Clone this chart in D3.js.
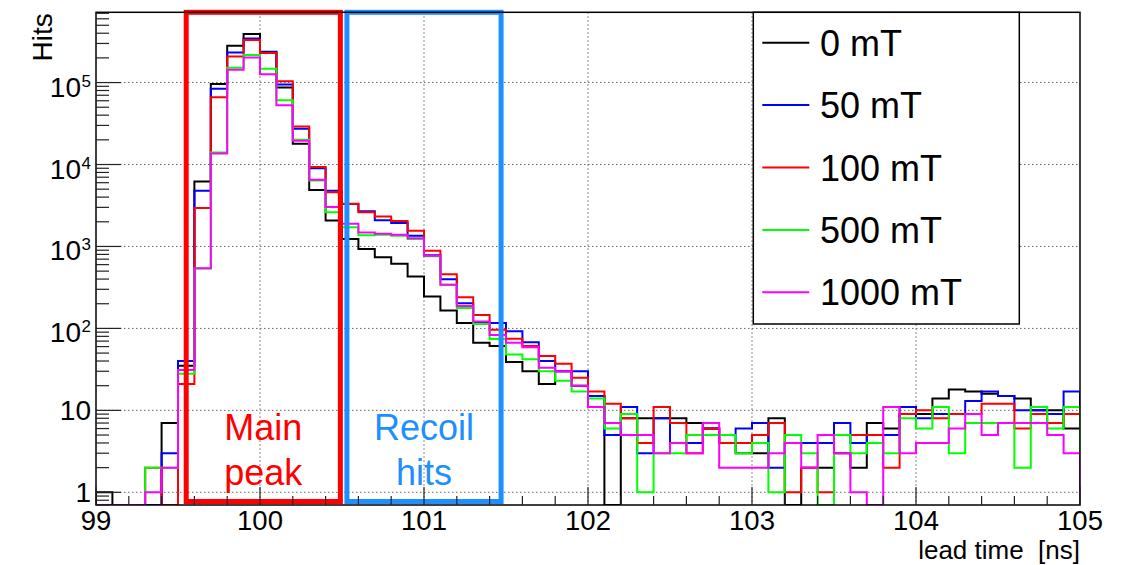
<!DOCTYPE html>
<html>
<head>
<meta charset="utf-8">
<script src="https://cdn.jsdelivr.net/npm/d3@7"></script>
<style>
  body { margin: 0; background: #fff; }
  svg { display: block; }
  text { font-family: "Liberation Sans", Arial, Helvetica, sans-serif; }
</style>
</head>
<body>
<svg id="chart" width="1127" height="565"></svg>
<script>
// Histogram binning: 60 bins of 0.1 ns from 99 ns to 105 ns
const binStart = 99;
const binWidth = 0.1;

// Hits per bin for each magnetic field setting
const hits0mT = [1, 0, 0, 0, 7, 35, 6200, 96000, 281000, 391000,
  238000, 87000, 17900, 4900, 2070, 1230, 930, 740, 615, 430,
  245, 165, 116, 67, 61, 39, 30, 21, 30, 20,
  15, 0, 8, 8, 8, 8, 7, 6, 4, 3,
  3, 8, 0, 2, 2, 3, 2, 7, 6, 9,
  9, 14, 18, 17, 16, 15, 14, 10, 10, 6];
const hits50mT = [0, 0, 0, 0, 3, 40, 4770, 84000, 233000, 346000,
  235000, 95000, 27300, 9000, 4770, 3300, 2680, 2090, 1930, 1350,
  783, 399, 203, 119, 116, 92, 68, 40, 30, 30,
  15, 5, 11, 3, 8, 4, 4, 6, 4, 6,
  7, 2, 4, 4, 4, 7, 4, 5, 5, 11,
  8, 9, 9, 13, 17, 15, 10, 10, 9, 17];
const hits100mT = [0, 0, 0, 2, 0, 21, 2940, 66000, 208000, 330000,
  229000, 104000, 29100, 9300, 4580, 3310, 2620, 2320, 2050, 1550,
  884, 459, 240, 146, 96, 75, 61, 46, 37, 25,
  17, 12, 8, 4, 11, 7, 3, 6, 4, 4,
  5, 7, 1, 2, 1, 5, 5, 5, 2, 9,
  10, 8, 9, 9, 12, 12, 6, 9, 7, 9];
const hits500mT = [0, 0, 0, 2, 2, 28, 540, 14000, 152000, 217000,
  147000, 61000, 20000, 6400, 2620, 1720, 1370, 1390, 1350, 1230,
  760, 340, 177, 113, 74, 48, 42, 30, 23, 17,
  14, 6, 9, 1, 3, 3, 5, 5, 5, 3,
  4, 1, 5, 3, 0, 5, 3, 4, 3, 8,
  6, 11, 3, 7, 7, 7, 2, 11, 6, 11];
const hits1000mT = [0, 0, 0, 1, 2, 31, 543, 13600, 143000, 202000,
  126000, 53000, 19500, 6500, 3020, 1890, 1480, 1430, 1390, 1260,
  770, 340, 188, 121, 83, 67, 59, 33, 30, 20,
  11, 7, 5, 5, 3, 4, 3, 7, 2, 2,
  2, 3, 4, 2, 5, 3, 1, 0, 11, 3,
  4, 4, 6, 9, 5, 7, 7, 7, 5, 3];

const seriesLabels = ["0 mT", "50 mT", "100 mT", "500 mT", "1000 mT"];
const seriesValues = [hits0mT, hits50mT, hits100mT, hits500mT, hits1000mT];
const seriesColors = ["#000000", "#0000ff", "#ff0000", "#00ff00", "#ff00ff"];

// Axis ticks
const xTickValues = [99, 100, 101, 102, 103, 104, 105];
const yDecades = [1, 10, 100, 1000, 10000, 100000];

// Highlighted time windows (ns)
const regionLabels = [["Main", "peak"], ["Recoil", "hits"]];
const regionRanges = [[99.55, 100.49], [100.53, 101.47]];
const regionColors = ["#ff0000", "#1e8fff"];

// ---------------------------------------------------------------
const svg = d3.select("#chart");
const frame = { left: 96, right: 1080, top: 12.3, bottom: 505 };

const x = d3.scaleLinear().domain([99, 105]).range([frame.left, frame.right]);
const y = d3.scaleLog().domain([0.7, 7.2e5]).range([frame.bottom, frame.top]);

svg.append("rect").attr("width", 1127).attr("height", 565).attr("fill", "#fff");

svg.append("defs").append("clipPath").attr("id", "plotClip")
  .append("rect")
  .attr("x", frame.left).attr("y", frame.top)
  .attr("width", frame.right - frame.left)
  .attr("height", frame.bottom - frame.top);

// Dotted grid
const grid = svg.append("g").attr("stroke", "#666").attr("stroke-width", 1)
  .attr("stroke-dasharray", "1.5,2.5");
grid.selectAll("line.gx").data(xTickValues.slice(1, -1)).join("line")
  .attr("x1", d => x(d)).attr("x2", d => x(d))
  .attr("y1", frame.top).attr("y2", frame.bottom);
grid.selectAll("line.gy").data(yDecades).join("line")
  .attr("x1", frame.left).attr("x2", frame.right)
  .attr("y1", d => y(d)).attr("y2", d => y(d));

// Step histograms
const yFloor = y.domain()[0];
function stepPoints(values) {
  const pts = [[binStart, yFloor]];
  values.forEach((v, i) => {
    const lo = binStart + i * binWidth, hi = binStart + (i + 1) * binWidth;
    const vv = Math.max(v, yFloor);
    pts.push([lo, vv], [hi, vv]);
  });
  pts.push([binStart + values.length * binWidth, yFloor]);
  return pts;
}
const line = d3.line().x(d => x(d[0])).y(d => y(d[1]));
const hists = svg.append("g").attr("clip-path", "url(#plotClip)");
seriesValues.forEach((vals, k) => {
  hists.append("path")
    .attr("d", line(stepPoints(vals)))
    .attr("fill", "none")
    .attr("stroke", seriesColors[k])
    .attr("stroke-width", 2)
    .attr("stroke-linejoin", "miter");
});

// Highlighted windows
regionRanges.forEach((r, k) => {
  svg.append("rect")
    .attr("x", x(r[0])).attr("y", frame.top)
    .attr("width", x(r[1]) - x(r[0]))
    .attr("height", 501.5 - frame.top)
    .attr("fill", "none")
    .attr("stroke", regionColors[k])
    .attr("stroke-width", 5);
  const cx = (x(r[0]) + x(r[1])) / 2;
  regionLabels[k].forEach((t, j) => {
    svg.append("text")
      .attr("x", cx).attr("y", 440 + j * 45)
      .attr("text-anchor", "middle")
      .attr("font-size", 36)
      .attr("fill", regionColors[k])
      .text(t);
  });
});

// Frame
svg.append("rect")
  .attr("x", frame.left).attr("y", frame.top)
  .attr("width", frame.right - frame.left)
  .attr("height", frame.bottom - frame.top)
  .attr("fill", "none").attr("stroke", "#000").attr("stroke-width", 1.5);

// X axis ticks and labels
const xMinor = d3.range(0, 31).map(i => 99 + i * 0.2);
const axes = svg.append("g").attr("stroke", "#222").attr("stroke-width", 1.2);
axes.selectAll("line.xt").data(xMinor).join("line")
  .attr("x1", d => x(d)).attr("x2", d => x(d))
  .attr("y1", frame.bottom)
  .attr("y2", d => frame.bottom - (Math.abs(d - Math.round(d)) < 1e-6 ? 18 : 9));

svg.append("g").selectAll("text").data(xTickValues).join("text")
  .attr("x", d => x(d)).attr("y", 530)
  .attr("text-anchor", "middle").attr("font-size", 27.5)
  .text(d => d);

// Y axis ticks and labels
const yMinor = [];
[-1, 0, 1, 2, 3, 4, 5].forEach(e => {
  for (let m = 1; m <= 9; m++) {
    const v = m * Math.pow(10, e);
    if (v > y.domain()[0] && v < y.domain()[1]) yMinor.push({ v, major: m === 1 });
  }
});
axes.selectAll("line.yt").data(yMinor).join("line")
  .attr("x1", frame.left)
  .attr("x2", d => frame.left + (d.major ? 25 : 13))
  .attr("y1", d => y(d.v)).attr("y2", d => y(d.v));

const yLab = svg.append("g");
yDecades.forEach(v => {
  const exp = Math.round(Math.log10(v));
  if (exp <= 1) {
    yLab.append("text")
      .attr("x", 91).attr("y", y(v) + 10)
      .attr("text-anchor", "end").attr("font-size", 28)
      .text(v);
  } else {
    yLab.append("text")
      .attr("x", 81).attr("y", y(v) + 14)
      .attr("text-anchor", "end").attr("font-size", 28)
      .text("10");
    yLab.append("text")
      .attr("x", 81.5).attr("y", y(v) + 4)
      .attr("font-size", 17)
      .text(exp);
  }
});

// Axis titles
svg.append("text")
  .attr("x", frame.right).attr("y", 558.5)
  .attr("text-anchor", "end").attr("font-size", 26)
  .attr("xml:space", "preserve")
  .text("lead time  [ns]");
svg.append("text")
  .attr("transform", `translate(52,${frame.top + 1}) rotate(-90)`)
  .attr("text-anchor", "end").attr("font-size", 28)
  .text("Hits");

// Legend
const legend = svg.append("g");
legend.append("rect")
  .attr("x", 753.3).attr("y", frame.top)
  .attr("width", 1019.3 - 753.3).attr("height", 324 - frame.top)
  .attr("fill", "#fff").attr("stroke", "#000").attr("stroke-width", 1.5);
seriesLabels.forEach((lab, k) => {
  const cy = 42.7 + k * 62.4;
  legend.append("line")
    .attr("x1", 762.3).attr("x2", 809.3)
    .attr("y1", cy).attr("y2", cy)
    .attr("stroke", seriesColors[k]).attr("stroke-width", 2);
  legend.append("text")
    .attr("x", 820).attr("y", cy + 13)
    .attr("font-size", 36)
    .text(lab);
});
</script>
</body>
</html>
